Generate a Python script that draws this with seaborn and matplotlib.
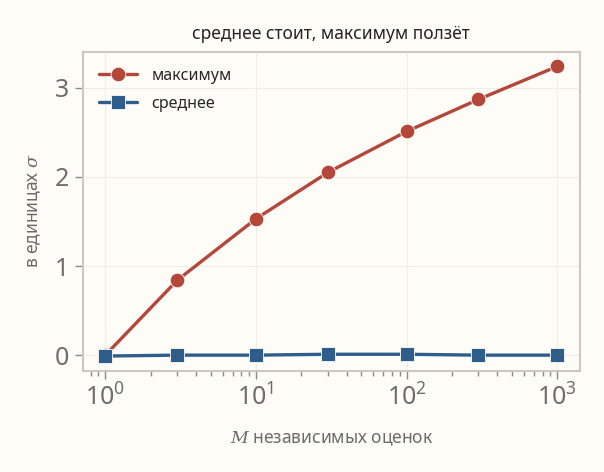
import matplotlib
matplotlib.use("Agg")
import matplotlib.pyplot as plt
import seaborn as sns
import pandas as pd

# values
m_values = [1, 3, 10, 30, 100, 300, 1000]
max_values = [0.0, 0.84, 1.53, 2.05, 2.51, 2.87, 3.24]
mean_values = [-0.01, 0.0, 0.0, 0.01, 0.01, 0.0, 0.0]
series_names = ["максимум", "среднее"]

df = pd.DataFrame({
    "M": m_values * 2,
    "value": max_values + mean_values,
    "series": [series_names[0]] * len(m_values) + [series_names[1]] * len(m_values),
})

bg = "#fdfcf7"
sns.set_theme(style="whitegrid")
plt.rcParams["font.family"] = ["Noto Sans", "DejaVu Sans"]
plt.rcParams["mathtext.fontset"] = "custom"
plt.rcParams["mathtext.rm"] = "Noto Sans"
plt.rcParams["mathtext.it"] = "DejaVu Serif:italic"

fig, ax = plt.subplots(figsize=(6.04, 4.72), dpi=100)
fig.patch.set_facecolor(bg)
ax.set_facecolor(bg)

palette = {"максимум": "#b5473a", "среднее": "#2e5d8c"}
sns.lineplot(data=df, x="M", y="value", hue="series", style="series",
             markers={"максимум": "o", "среднее": "s"}, dashes=False,
             palette=palette, linewidth=2.4, markersize=10.5,
             markeredgecolor=bg, markeredgewidth=0.6, ax=ax)

ax.set_xscale("log")
ax.set_yticks([0, 1, 2, 3])
ax.set_title("среднее стоит, максимум ползёт", fontsize=12.5, color="#222222", pad=9)
ax.set_xlabel("$M$ независимых оценок", fontsize=12.5, color="#6b6b6b", labelpad=13)
ax.set_ylabel("в единицах $\\sigma$", fontsize=12.5, color="#6b6b6b", labelpad=8)

ax.grid(True, which="major", color="#eeede6", linewidth=0.8)
ax.grid(False, which="minor")
for s in ax.spines.values():
    s.set_color("#cac8c0")
    s.set_linewidth(1.5)
ax.tick_params(axis="both", which="major", labelsize=18, labelcolor="#6e6e6e",
               color="#8a8a8a", length=6, width=1, direction="out",
               bottom=True, left=True, pad=4)
ax.tick_params(axis="x", which="minor", color="#8a8a8a", length=3.5, width=1,
               direction="out", bottom=True)

leg = ax.legend(loc="upper left", frameon=False, fontsize=11.5,
                handlelength=2.4, handletextpad=0.9, labelspacing=0.75,
                borderaxespad=0.6)
leg.set_title(None)

fig.subplots_adjust(left=0.137, right=0.96, top=0.89, bottom=0.215)
fig.savefig("out.png", dpi=100, facecolor=bg)
